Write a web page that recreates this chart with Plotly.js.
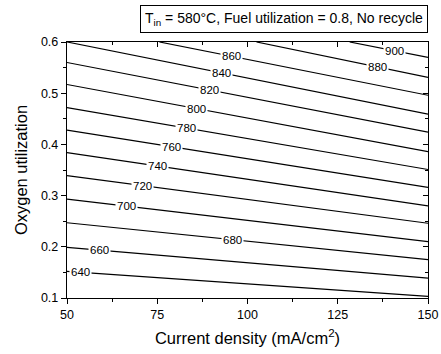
<!DOCTYPE html>
<html>
<head>
<meta charset="utf-8">
<script src="https://cdn.plot.ly/plotly-3.0.1.min.js"></script>
<style>html,body{margin:0;padding:0;background:#fff;}#chart{width:441px;height:354px;}</style>
</head>
<body>
<div id="chart"></div>
<script>
// Contour levels (temperature, °C)
const levels = [640, 660, 680, 700, 720, 740, 760, 780, 800, 820, 840, 860, 880, 900];
// Where each contour line enters the plot (left or top edge)
const startX = [50, 50, 50, 50, 50, 50, 50, 50, 50, 50, 50, 75.6, 102.5, 128.3];
const startY = [0.152, 0.199, 0.247, 0.293, 0.339, 0.384, 0.428, 0.472, 0.517, 0.560, 0.600, 0.6, 0.6, 0.6];
// Where each contour line leaves the plot (right edge)
const endX = [150, 150, 150, 150, 150, 150, 150, 150, 150, 150, 150, 150, 150, 150];
const endY = [0.103, 0.139, 0.175, 0.210, 0.246, 0.280, 0.316, 0.351, 0.386, 0.424, 0.459, 0.496, 0.531, 0.570];
// x position of each contour label
const labelX = [53.6, 58.9, 95.8, 66.4, 70.8, 75.0, 78.9, 83.0, 85.8, 89.4, 92.8, 95.6, 136.0, 140.8];

const xTicks = [50, 75, 100, 125, 150];
const yTicks = [0.1, 0.2, 0.3, 0.4, 0.5, 0.6];

const FONT = 'Liberation Sans, Arial, sans-serif';

const traces = levels.map((lv, i) => ({
  type: 'scatter', mode: 'lines',
  x: [startX[i], endX[i]], y: [startY[i], endY[i]],
  line: {color: '#000', width: 1.2},
  hoverinfo: 'skip', showlegend: false
}));
traces.push({type: 'scatter', mode: 'none', x: [50, 150], y: [0.1, 0.6],
  xaxis: 'x2', yaxis: 'y2', hoverinfo: 'skip', showlegend: false});

const annotations = levels.map((lv, i) => {
  const t = (labelX[i] - startX[i]) / (endX[i] - startX[i]);
  const ly = startY[i] + t * (endY[i] - startY[i]);
  return {x: labelX[i], y: ly, xref: 'x', yref: 'y', text: String(lv), showarrow: false,
    font: {family: FONT, size: 11.5, color: '#000'}, bgcolor: '#fff', borderpad: 1,
    xanchor: 'center', yanchor: 'middle'};
});
annotations.push({
  xref: 'paper', yref: 'paper', x: 1.0, y: 1.0, xanchor: 'right', yanchor: 'bottom', yshift: 9,
  text: 'T<sub>in</sub> = 580°C, Fuel utilization = 0.8, No recycle',
  showarrow: false, font: {family: FONT, size: 14, color: '#000'},
  bgcolor: '#fff', bordercolor: '#000', borderwidth: 1, borderpad: 4
});

const baseAxis = {showgrid: false, zeroline: false, showline: true, linecolor: '#000', linewidth: 1.2,
  tickcolor: '#000', tickwidth: 1, tickfont: {family: FONT, size: 12.5, color: '#000'}};

const layout = {
  width: 441, height: 354,
  margin: {l: 67, r: 13, t: 42, b: 56},
  paper_bgcolor: '#fff', plot_bgcolor: '#fff',
  showlegend: false,
  xaxis: Object.assign({}, baseAxis, {
    range: [50, 150], tickvals: xTicks, ticktext: xTicks.map(String),
    ticks: 'outside', ticklen: 5,
    minor: {tickvals: [62.5, 87.5, 112.5, 137.5], ticks: 'outside', ticklen: 3, tickcolor: '#000'},
    title: {text: 'Current density (mA/cm<sup>2</sup>)', font: {family: FONT, size: 16.5, color: '#000'}, standoff: 11}
  }),
  yaxis: Object.assign({}, baseAxis, {
    range: [0.1, 0.6], tickvals: yTicks, ticktext: yTicks.map(v => v.toFixed(1)),
    ticks: 'outside', ticklen: 5,
    minor: {tickvals: [0.15, 0.25, 0.35, 0.45, 0.55], ticks: 'outside', ticklen: 3, tickcolor: '#000'},
    title: {text: 'Oxygen utilization', font: {family: FONT, size: 16.5, color: '#000'}, standoff: 9}
  }),
  xaxis2: Object.assign({}, baseAxis, {
    overlaying: 'x', side: 'top', range: [50, 150], tickvals: xTicks, showticklabels: false,
    ticks: 'inside', ticklen: 5,
    minor: {tickvals: [62.5, 87.5, 112.5, 137.5], ticks: 'inside', ticklen: 3, tickcolor: '#000'}
  }),
  yaxis2: Object.assign({}, baseAxis, {
    overlaying: 'y', side: 'right', range: [0.1, 0.6], tickvals: yTicks, showticklabels: false,
    ticks: 'inside', ticklen: 5,
    minor: {tickvals: [0.15, 0.25, 0.35, 0.45, 0.55], ticks: 'inside', ticklen: 3, tickcolor: '#000'}
  }),
  annotations: annotations
};

Plotly.newPlot('chart', traces, layout, {staticPlot: true, displayModeBar: false});
</script>
</body>
</html>
